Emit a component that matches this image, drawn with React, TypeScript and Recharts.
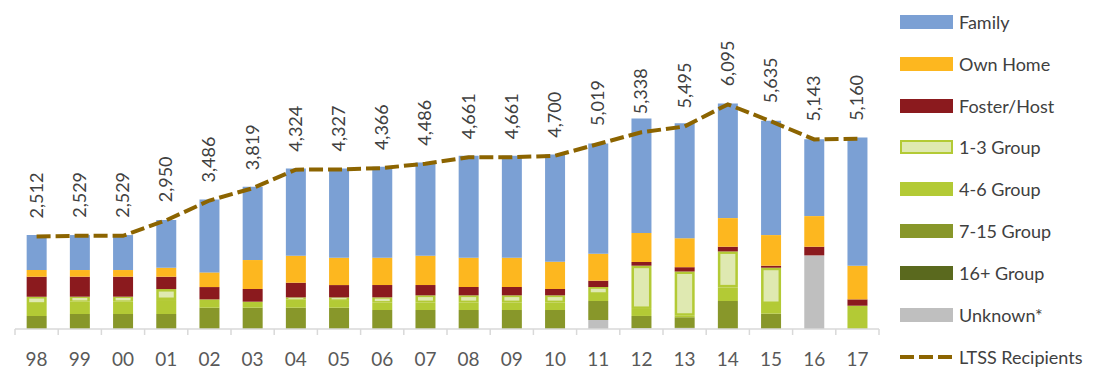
import React from 'react';
import { ComposedChart, Bar, Line, XAxis, YAxis, LabelList } from 'recharts';

const years = ['98','99','00','01','02','03','04','05','06','07','08','09','10','11','12','13','14','15','16','17'];
const family   = [949, 949, 949, 1292, 1978, 1987, 2366, 2421, 2466, 2529, 2764, 2764, 2909, 2990, 3108, 3117, 3108, 3099, 2087, 3478];
const ownHome  = [181, 181, 181, 244, 398, 786, 732, 741, 741, 795, 795, 795, 741, 732, 786, 786, 777, 831, 831, 912];
const foster   = [542, 542, 542, 334, 334, 344, 398, 334, 334, 280, 226, 226, 172, 172, 100, 117, 127, 54, 235, 172];
const group13  = [199, 136, 136, 298, 0, 0, 54, 72, 136, 190, 190, 190, 190, 190, 1174, 1201, 976, 985, 0, 0];
const group46  = [325, 334, 334, 379, 226, 163, 226, 208, 208, 208, 208, 208, 208, 190, 190, 40, 370, 262, 0, 632];
const group715 = [352, 407, 407, 407, 578, 578, 578, 578, 515, 515, 515, 515, 515, 515, 334, 289, 759, 416, 0, 0];
const group16  = [0, 0, 0, 0, 0, 0, 0, 0, 0, 0, 0, 0, 0, 0, 0, 0, 0, 0, 0, 0];
const unknown  = [0, 0, 0, 0, 0, 0, 0, 0, 0, 0, 0, 0, 0, 244, 20, 30, 0, 0, 1997, 0];
const ltss     = [2512, 2529, 2529, 2950, 3486, 3819, 4324, 4327, 4366, 4486, 4661, 4661, 4700, 5019, 5338, 5495, 6095, 5635, 5143, 5160];

const data = years.map((y, i) => ({
  year: y,
  unknown: unknown[i],
  group16: group16[i],
  group715: group715[i],
  group46: group46[i],
  group13: group13[i],
  foster: foster[i],
  ownHome: ownHome[i],
  family: family[i],
  ltss: ltss[i],
}));

const C = {
  family: '#7ba0d4',
  ownHome: '#fdb71f',
  foster: '#8b1a1e',
  g13fill: '#dfe9b1',
  g46: '#b3ca35',
  g715: '#88972a',
  g16: '#5a691e',
  unknown: '#bfbfbf',
  line: '#8c6400',
};

const FONT = 'Lato, "Liberation Sans", sans-serif';
const CHART_W = 1096;
const CHART_H = 364;
const MARGIN = { top: 63, right: 225, left: 7, bottom: 13 };
const HALF_BAND = (CHART_W - MARGIN.left - MARGIN.right) / years.length / 2;

const legendItems = [
  { label: 'Family', color: C.family, kind: 'rect' },
  { label: 'Own Home', color: C.ownHome, kind: 'rect' },
  { label: 'Foster/Host', color: C.foster, kind: 'rect' },
  { label: '1-3 Group', color: C.g13fill, kind: 'outline' },
  { label: '4-6 Group', color: C.g46, kind: 'rect' },
  { label: '7-15 Group', color: C.g715, kind: 'rect' },
  { label: '16+ Group', color: C.g16, kind: 'rect' },
  { label: 'Unknown*', color: C.unknown, kind: 'rect' },
  { label: 'LTSS Recipients', color: C.line, kind: 'line' },
];

const Group13Shape = (props: any) => {
  const { x, y, width, height } = props;
  if (!height || height <= 0) return null;
  const inset = Math.min(2.5, height / 4);
  return (
    <g>
      <rect x={x} y={y} width={width} height={height} fill={C.g46} />
      <rect x={x + 2.5} y={y + inset} width={Math.max(0, width - 5)} height={Math.max(0, height - 2 * inset)} fill={C.g13fill} />
    </g>
  );
};

const AxisTick = (props: any) => {
  const { x, y, payload, index } = props;
  return (
    <g>
      <line x1={x - HALF_BAND} x2={x - HALF_BAND} y1={y} y2={y + 6} stroke="#d9d9d9" strokeWidth={1.5} />
      {index === years.length - 1 && (
        <line x1={x + HALF_BAND} x2={x + HALF_BAND} y1={y} y2={y + 6} stroke="#d9d9d9" strokeWidth={1.5} />
      )}
      <text x={x} y={y + 29} textAnchor="middle" dominantBaseline="central" fill="#595959" fontSize={19} fontFamily={FONT}>
        {payload.value}
      </text>
    </g>
  );
};

const LineLabel = (props: any) => {
  const { x, y, value } = props;
  const tx = x - 1;
  const ty = y - 18;
  return (
    <text x={tx} y={ty} transform={`rotate(-90 ${tx} ${ty})`} textAnchor="start" dominantBaseline="central" fill="#404040" fontSize={18} fontFamily={FONT}>
      {Number(value).toLocaleString('en-US')}
    </text>
  );
};

const Legend = () => (
  <div style={{ position: 'absolute', left: 892, top: 0, fontFamily: FONT }}>
    {legendItems.map((it, i) => (
      <div key={it.label} style={{ position: 'absolute', top: 13.7 + 41.9 * i - 10, left: 0, height: 20, display: 'flex', alignItems: 'center', whiteSpace: 'nowrap' }}>
        <svg width={54} height={16} style={{ display: 'block' }}>
          {it.kind === 'rect' && <rect x={0} y={1} width={53} height={14} fill={it.color} />}
          {it.kind === 'outline' && <rect x={1} y={2} width={51} height={12} fill={C.g13fill} stroke={C.g46} strokeWidth={2} />}
          {it.kind === 'line' && <line x1={0} x2={53} y1={8} y2={8} stroke={it.color} strokeWidth={4} strokeDasharray="14 5" />}
        </svg>
        <span style={{ marginLeft: 5, fontSize: 18, color: '#404040' }}>{it.label}</span>
      </div>
    ))}
  </div>
);

export default function App() {
  return (
    <div style={{ position: 'relative', width: CHART_W, height: CHART_H }}>
      <ComposedChart width={CHART_W} height={CHART_H} data={data} margin={MARGIN} barCategoryGap="27%">
        <XAxis
          dataKey="year"
          height={30}
          tickLine={false}
          tickSize={0}
          tickMargin={0}
          axisLine={{ stroke: '#d9d9d9', strokeWidth: 1.5 }}
          tick={<AxisTick />}
          interval={0}
        />
        <YAxis hide domain={[0, 7000]} />
        <Bar dataKey="unknown" stackId="a" fill={C.unknown} isAnimationActive={false} />
        <Bar dataKey="group16" stackId="a" fill={C.g16} isAnimationActive={false} />
        <Bar dataKey="group715" stackId="a" fill={C.g715} isAnimationActive={false} />
        <Bar dataKey="group46" stackId="a" fill={C.g46} isAnimationActive={false} />
        <Bar dataKey="group13" stackId="a" fill={C.g13fill} shape={<Group13Shape />} isAnimationActive={false} />
        <Bar dataKey="foster" stackId="a" fill={C.foster} isAnimationActive={false} />
        <Bar dataKey="ownHome" stackId="a" fill={C.ownHome} isAnimationActive={false} />
        <Bar dataKey="family" stackId="a" fill={C.family} isAnimationActive={false} />
        <Line
          dataKey="ltss"
          type="linear"
          stroke={C.line}
          strokeWidth={4}
          strokeDasharray="14 5"
          dot={false}
          activeDot={false}
          isAnimationActive={false}
        >
          <LabelList dataKey="ltss" content={<LineLabel />} />
        </Line>
      </ComposedChart>
      <Legend />
    </div>
  );
}
